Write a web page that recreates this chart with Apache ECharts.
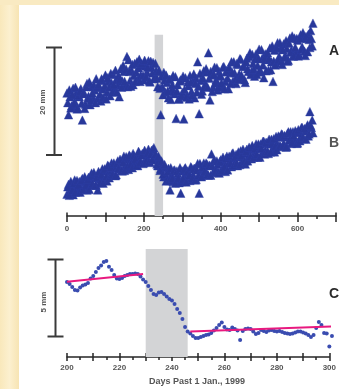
<!DOCTYPE html>
<html><head><meta charset="utf-8">
<script src="https://cdn.jsdelivr.net/npm/echarts@6/dist/echarts.min.js"></script>
<style>html,body{margin:0;padding:0;background:#fff}#c{width:339px;height:389px}</style>
</head><body><div id="c"></div>
<script>
// ---- data ----
const daysTop = [
0,4,8,12,16,20,24,28,32,36,
40,44,48,52,56,60,64,68,72,76,
80,84,88,92,96,100,104,108,112,116,
120,124,128,132,136,140,144,148,152,156,
160,164,168,172,176,180,184,188,192,196,
200,204,208,212,216,220,224,228,232,236,
240,244,248,252,256,260,264,268,272,276,
280,284,288,292,296,300,304,308,312,316,
320,324,328,332,336,340,344,348,352,356,
360,364,368,372,376,380,384,388,392,396,
400,404,408,412,416,420,424,428,432,436,
440,444,448,452,456,460,464,468,472,476,
480,484,488,492,496,500,504,508,512,516,
520,524,528,532,536,540,544,548,552,556,
560,564,568,572,576,580,584,588,592,596,
600,604,608,612,616,620,624,628,632,636,
640];
const seriesA = [
23.2,19.1,22.5,20.8,24.1,21.6,23.2,20.4,22.5,24.0,
18.1,23.3,21.1,25.0,22.6,21.0,24.4,22.3,23.8,25.9,
22.2,24.3,21.7,25.6,24.0,26.6,23.4,25.4,22.7,25.1,
26.7,23.8,25.7,24.7,22.5,27.8,25.5,27.3,24.7,30.1,
29.5,25.6,27.5,24.8,28.8,27.2,25.7,29.6,26.6,28.4,
25.7,28.3,27.2,29.3,25.3,28.1,29.0,26.1,27.4,24.4,
27.4,19.1,24.4,27.1,23.3,25.2,22.3,25.8,23.9,26.5,
23.1,18.4,24.8,22.1,25.7,23.3,18.3,26.1,22.8,24.6,
26.5,23.5,25.4,22.3,26.0,29.1,19.3,25.6,23.6,27.4,
24.9,27.2,30.8,21.9,26.6,24.3,28.1,25.7,23.8,27.3,
26.4,24.3,28.2,25.4,27.5,24.0,27.3,29.1,25.5,27.0,
25.0,28.6,26.8,29.6,26.0,28.3,25.2,29.8,27.3,30.8,
27.3,28.8,26.4,30.6,28.4,31.5,27.2,29.8,26.1,30.6,
29.5,27.5,31.7,29.1,25.4,31.3,28.9,32.7,30.1,31.6,
28.6,32.5,30.3,31.6,29.4,33.6,31.3,30.2,33.6,31.0,
33.2,30.5,34.2,31.9,33.6,30.3,33.5,34.3,31.8,33.5,
36.4];
const seriesB = [
4.1,6.0,4.8,5.8,4.0,6.8,5.5,4.6,6.5,5.3,
7.1,5.4,6.5,4.9,7.3,6.3,8.1,5.8,7.2,5.8,
4.9,8.0,7.0,8.9,6.8,8.5,6.6,9.4,8.4,10.0,
7.9,9.1,7.8,10.4,8.9,10.4,8.5,11.3,9.6,10.7,
8.8,11.3,10.2,11.8,9.7,11.1,9.5,11.9,10.3,11.8,
10.1,11.8,10.9,12.6,10.1,12.4,12.6,10.6,11.3,9.5,
10.8,9.0,9.7,7.4,9.2,7.4,9.0,4.9,7.8,6.5,
8.7,6.8,8.0,6.3,4.3,8.5,7.5,9.1,6.8,8.2,
6.7,9.1,7.8,9.0,6.9,9.9,4.3,8.8,7.7,10.0,
8.4,9.8,7.7,9.5,11.7,8.2,10.5,8.8,9.7,8.1,
10.6,8.9,10.2,8.4,11.3,10.0,11.0,9.3,11.9,10.1,
11.6,9.5,11.2,12.3,10.3,11.8,9.8,12.6,11.3,12.6,
10.8,12.6,11.9,13.6,11.1,12.8,13.6,11.9,14.1,12.4,
13.8,11.8,13.6,14.5,12.8,12.1,15.0,13.6,14.9,13.1,
15.4,13.7,14.9,13.1,15.9,14.5,13.7,15.9,14.4,15.8,
13.8,15.8,15.0,16.7,14.6,16.1,16.8,15.1,19.7,16.7,
15.7];
// the in-between days of the same records
const daysTopMid = [
2,6,10,14,18,22,26,30,34,38,
42,46,50,54,58,62,66,70,74,78,
82,86,90,94,98,102,106,110,114,118,
122,126,130,134,138,142,146,150,154,158,
162,166,170,174,178,182,186,190,194,198,
202,206,210,214,218,222,226,230,234,238,
242,246,250,254,258,262,266,270,274,278,
282,286,290,294,298,302,306,310,314,318,
322,326,330,334,338,342,346,350,354,358,
362,366,370,374,378,382,386,390,394,398,
402,406,410,414,418,422,426,430,434,438,
442,446,450,454,458,462,466,470,474,478,
482,486,490,494,498,502,506,510,514,518,
522,526,530,534,538,542,546,550,554,558,
562,566,570,574,578,582,586,590,594,598,
602,606,610,614,618,622,626,630,634,638];
const seriesAMid = [
21.4,23.8,20.4,22.9,21.2,24.3,20.2,22.8,23.6,21.3,
23.1,20.3,24.4,22.2,25.3,21.8,23.2,24.8,21.4,24.3,
24.8,23.0,25.9,22.4,24.6,22.1,26.1,24.3,26.9,23.4,
24.8,27.5,23.4,26.5,25.9,24.3,28.4,25.4,27.7,24.4,
27.3,24.5,28.6,26.5,25.4,29.1,28.0,25.4,28.8,26.5,
29.4,26.3,28.1,25.5,29.2,27.0,25.9,28.8,26.0,27.3,
24.1,26.4,22.9,25.7,26.6,23.6,25.8,22.0,24.8,23.5,
26.3,23.6,22.1,25.5,22.7,26.4,23.9,22.4,25.3,22.1,
25.3,22.8,26.8,25.0,23.4,24.5,26.9,23.0,26.0,24.4,
27.8,24.3,26.0,27.3,23.5,26.8,25.1,28.0,24.4,26.6,
25.1,28.1,24.0,27.2,26.0,28.1,25.0,27.1,29.1,25.8,
28.8,25.8,29.7,26.6,28.2,25.7,29.1,27.8,30.1,26.7,
30.5,27.7,29.7,26.7,29.7,27.6,31.4,28.5,29.7,27.4,
30.8,29.7,27.6,32.1,29.2,28.5,31.8,29.5,32.7,29.3,
31.4,29.9,33.1,29.2,32.6,30.9,34.0,30.2,31.8,33.5,
30.2,33.6,31.5,34.6,31.1,33.9,31.0,33.3,35.0,32.1];
const seriesBMid = [
5.5,3.9,6.5,4.9,6.2,4.5,6.7,5.9,4.5,6.8,
5.0,7.4,5.9,6.9,5.0,7.6,6.1,8.2,5.8,7.4,
8.4,6.3,7.8,6.2,8.9,7.5,9.6,7.2,9.2,7.8,
10.0,7.6,9.9,9.0,10.7,8.6,10.1,8.6,11.2,9.5,
11.5,9.8,9.1,11.4,10.8,9.6,12.2,10.2,11.5,9.9,
12.4,10.4,11.9,10.3,11.7,10.7,12.9,11.7,9.8,11.3,
8.6,10.4,7.9,9.7,6.6,8.4,6.7,9.1,7.1,8.6,
6.2,8.5,7.2,9.1,6.5,7.0,8.9,6.4,8.5,7.7,
9.3,7.1,8.9,6.8,8.7,7.7,9.9,7.4,9.2,8.4,
10.0,7.9,9.6,7.7,9.5,10.5,8.5,10.4,8.2,10.3,
8.6,11.1,9.3,10.9,8.7,11.3,10.0,11.8,9.6,11.2,
10.0,12.1,9.7,11.4,12.6,10.4,12.2,10.4,13.0,11.3,
13.3,11.1,12.8,11.7,13.6,11.1,12.8,14.1,11.7,13.9,
12.2,14.5,12.1,13.8,14.6,13.2,12.5,15.1,13.3,15.5,
13.2,15.2,13.0,15.6,14.3,15.9,13.9,15.2,16.1,13.7,
16.3,14.2,16.7,14.9,16.5,14.5,17.2,15.5,17.1,18.1];
const daysC = [
200,201,202,203,204,205,206,207,208,209,
210,211,212,213,214,215,216,217,218,219,
220,221,222,223,224,225,226,227,228,229,
230,231,232,233,234,235,236,237,238,239,
240,241,242,243,244,245,246,247,248,249,
250,251,252,253,254,255,256,257,258,259,
260,261,262,263,264,265,266,267,268,269,
270,271,272,273,274,275,276,277,278,279,
280,281,282,283,284,285,286,287,288,289,
290,291,292,293,294,295,296,297,298,299,
300,301];
const seriesC = [
4.84,4.71,4.52,4.32,4.29,4.48,4.61,4.68,4.77,5.06,
5.23,5.48,5.74,5.90,6.13,6.19,5.83,5.61,5.29,5.06,
5.03,5.10,5.23,5.29,5.35,5.35,5.39,5.35,5.19,5.00,
4.84,4.58,4.32,4.06,4.00,4.16,4.19,4.06,3.90,3.74,
3.65,3.42,3.10,2.84,2.45,1.94,1.65,1.52,1.35,1.23,
1.23,1.29,1.35,1.42,1.45,1.55,1.71,1.87,2.06,2.23,
1.94,1.77,1.74,1.90,1.81,1.71,1.10,1.68,1.81,1.84,
1.81,1.65,1.48,1.55,1.74,1.68,1.61,1.71,1.74,1.68,
1.65,1.68,1.61,1.55,1.52,1.48,1.52,1.58,1.65,1.65,
1.58,1.52,1.42,1.29,1.42,1.87,2.26,2.06,1.55,1.52,
0.68,1.35];
const fitBeforeDays = [200, 229];
const fitBeforeMm = [4.86, 5.35];
const fitAfterDays = [247, 301];
const fitAfterMm = [1.64, 1.97];
const bandTopDays = [228, 250];
const bandTopMm = [0, 34.2];
const bandBottomDays = [230, 246];
const bandBottomMm = [0, 6.97];
const topTickLabels = [0, 200, 400, 600];
const bottomTickLabels = [200, 220, 240, 260, 280, 300];
const xTitle = 'Days Past 1 Jan., 1999';

// ---- chart ----
const zip = (xs, ys) => xs.map((x, i) => [x, ys[i]]);
const ink = '#262626';
const navy = '#28389a';
const labelFont = {fontSize: 8, color: '#555', fontFamily: 'Liberation Sans, Arial', fontWeight: 'bold'};

function mainAxis(grid, min, max, interval, tickLen, labels, margin) {
  return {
    gridIndex: grid, type: 'value', min: min, max: max, interval: interval, position: 'bottom',
    axisLine: {lineStyle: {color: ink, width: 1.5}},
    axisTick: {length: tickLen, lineStyle: {color: ink, width: 1.5}},
    minorTick: {show: true, splitNumber: 2, length: 3, lineStyle: {color: ink, width: 1.5}},
    splitLine: {show: false}, minorSplitLine: {show: false},
    axisLabel: Object.assign({margin: margin, formatter: v => labels.includes(v) ? String(v) : ''}, labelFont)
  };
}
function innerAxis(grid, min, max, interval, tickLen) {
  return {
    gridIndex: grid, type: 'value', min: min, max: max, interval: interval, position: 'bottom',
    axisLine: {show: false},
    axisTick: {inside: true, length: tickLen, lineStyle: {color: ink, width: 1.5}},
    axisLabel: {show: false}, splitLine: {show: false}
  };
}
const triStyle = {color: navy, borderColor: '#2e40a6', borderWidth: 0.4, opacity: 1};

const chart = echarts.init(document.getElementById('c'), null, {renderer: 'canvas', width: 339, height: 389});
chart.setOption({
  animation: false,
  backgroundColor: '#ffffff',
  grid: [
    {left: 67, top: 20, width: 270, height: 196},
    {left: 67, top: 248.5, width: 269, height: 108.5}
  ],
  xAxis: [
    mainAxis(0, 0, 700, 100, 6, topTickLabels, 9),
    innerAxis(0, 0, 700, 100, 3.5),
    mainAxis(1, 200, 300, 10, 4, bottomTickLabels, 7),
    innerAxis(1, 200, 300, 10, 4)
  ],
  yAxis: [
    {gridIndex: 0, type: 'value', min: 0, max: 37, show: false},
    {gridIndex: 1, type: 'value', min: 0, max: 7, show: false}
  ],
  series: [
    {type: 'scatter', name: 'B', xAxisIndex: 0, yAxisIndex: 0,
     data: zip(daysTop, seriesB).concat(zip(daysTopMid, seriesBMid)),
     symbol: 'triangle', symbolSize: 8.5, itemStyle: triStyle,
     markArea: {silent: true, itemStyle: {color: '#d3d4d6'},
       data: [[{xAxis: bandTopDays[0], yAxis: bandTopMm[0]}, {xAxis: bandTopDays[1], yAxis: bandTopMm[1]}]]}},
    {type: 'scatter', name: 'A', xAxisIndex: 0, yAxisIndex: 0,
     data: zip(daysTop, seriesA).concat(zip(daysTopMid, seriesAMid)),
     symbol: 'triangle', symbolSize: 8.5, itemStyle: triStyle},
    {type: 'scatter', name: 'C', xAxisIndex: 2, yAxisIndex: 1, data: zip(daysC, seriesC), clip: false,
     symbol: 'circle', symbolSize: 4, itemStyle: {color: '#3a4cb0', opacity: 1},
     markArea: {silent: true, itemStyle: {color: '#d3d4d6'},
       data: [[{xAxis: bandBottomDays[0], yAxis: bandBottomMm[0]}, {xAxis: bandBottomDays[1], yAxis: bandBottomMm[1]}]]}},
    {type: 'line', xAxisIndex: 2, yAxisIndex: 1, data: zip(fitBeforeDays, fitBeforeMm), clip: false, z: 4,
     symbol: 'none', lineStyle: {color: '#e8197f', width: 2}},
    {type: 'line', xAxisIndex: 2, yAxisIndex: 1, data: zip(fitAfterDays, fitAfterMm), clip: false, z: 4,
     symbol: 'none', lineStyle: {color: '#e8197f', width: 2}}
  ],
  graphic: [
    {type: 'rect', z: -10, shape: {x: 0, y: 0, width: 19, height: 389},
     style: {fill: new echarts.graphic.LinearGradient(0, 0, 1, 0, [
       {offset: 0, color: '#f9e8bb'}, {offset: 0.5, color: '#fcf0cf'}, {offset: 1, color: '#f7e4b3'}])}},
    {type: 'rect', z: -10, shape: {x: 0, y: 0, width: 339, height: 5}, style: {fill: '#f9eac2'}},
    // scale bars
    {type: 'line', shape: {x1: 54.5, y1: 47.5, x2: 54.5, y2: 155}, style: {stroke: '#3a3a3a', lineWidth: 2}},
    {type: 'line', shape: {x1: 46, y1: 47.5, x2: 62, y2: 47.5}, style: {stroke: '#3a3a3a', lineWidth: 2}},
    {type: 'line', shape: {x1: 46, y1: 155, x2: 62, y2: 155}, style: {stroke: '#3a3a3a', lineWidth: 2}},
    {type: 'line', shape: {x1: 55.5, y1: 259.5, x2: 55.5, y2: 336.5}, style: {stroke: '#3a3a3a', lineWidth: 2}},
    {type: 'line', shape: {x1: 47.5, y1: 259.5, x2: 63.5, y2: 259.5}, style: {stroke: '#3a3a3a', lineWidth: 2}},
    {type: 'line', shape: {x1: 47.5, y1: 336.5, x2: 63.5, y2: 336.5}, style: {stroke: '#3a3a3a', lineWidth: 2}},
    {type: 'text', x: 42.5, y: 102, rotation: Math.PI / 2,
     style: {text: '20 mm', font: 'bold 8px "Liberation Sans", Arial', fill: '#555', align: 'center', verticalAlign: 'middle'}},
    {type: 'text', x: 44, y: 302, rotation: Math.PI / 2,
     style: {text: '5 mm', font: 'bold 8px "Liberation Sans", Arial', fill: '#555', align: 'center', verticalAlign: 'middle'}},
    // panel letters
    {type: 'text', x: 329, y: 51, style: {text: 'A', font: 'bold 14px "Liberation Sans", Arial', fill: '#2a2a2a', align: 'left', verticalAlign: 'middle'}},
    {type: 'text', x: 329, y: 143, style: {text: 'B', font: 'bold 14px "Liberation Sans", Arial', fill: '#555', align: 'left', verticalAlign: 'middle'}},
    {type: 'text', x: 329, y: 294, style: {text: 'C', font: 'bold 14px "Liberation Sans", Arial', fill: '#2a2a2a', align: 'left', verticalAlign: 'middle'}},
    {type: 'text', x: 197, y: 381.5, style: {text: xTitle, font: 'bold 9px "Liberation Sans", Arial', fill: '#555', align: 'center', verticalAlign: 'middle'}}
  ]
});
</script></body></html>
